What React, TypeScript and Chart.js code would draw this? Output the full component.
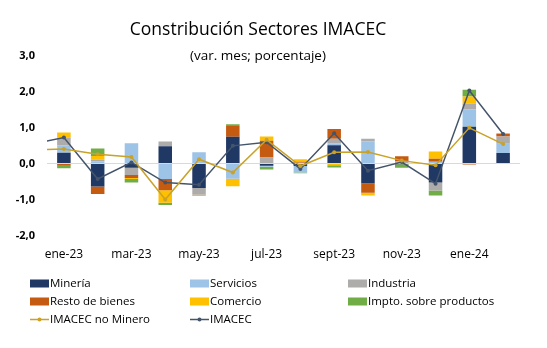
import React, { useEffect, useRef } from 'react';
import { Chart, registerables } from 'chart.js';

Chart.register(...registerables);

// Categories (dic-22 only carries the line stub that enters from the left edge)
const months = ['dic-22', 'ene-23', 'feb-23', 'mar-23', 'abr-23', 'may-23', 'jun-23', 'jul-23', 'ago-23', 'sept-23', 'oct-23', 'nov-23', 'dic-23', 'ene-24', 'feb-24'];

// Sector contributions (pp)
const mineria = [null, 0.30, -0.64, -0.12, 0.48, -0.68, 0.74, -0.06, -0.07, 0.51, -0.55, -0.02, -0.53, 1.02, 0.29];
const servicios = [null, 0.21, 0.06, 0.56, -0.43, 0.31, -0.42, -0.03, -0.18, 0.05, 0.62, 0.00, 0.05, 0.48, 0.26];
const industria = [null, 0.21, 0.05, -0.20, 0.13, -0.19, -0.03, 0.17, 0.02, 0.13, 0.07, 0.06, -0.22, 0.17, 0.20];
const restoBienes = [null, -0.06, -0.21, -0.08, -0.31, 0.00, 0.30, 0.46, 0.03, 0.27, -0.26, 0.14, 0.08, -0.03, 0.07];
const comercio = [null, 0.14, 0.10, -0.03, -0.35, -0.03, -0.18, 0.12, 0.07, -0.05, -0.08, 0.00, 0.20, 0.19, 0.03];
const impto = [null, -0.07, 0.21, -0.10, -0.06, 0.00, 0.05, -0.08, -0.02, -0.06, 0.00, -0.10, -0.14, 0.19, 0.00];

// Lines
const imacecNoMinero = [0.38, 0.40, 0.26, 0.18, -1.00, 0.12, -0.25, 0.66, -0.07, 0.31, 0.32, 0.08, -0.05, 0.99, 0.54];
const imacec = [0.53, 0.72, -0.43, 0.03, -0.53, -0.59, 0.49, 0.59, -0.15, 0.84, -0.20, 0.04, -0.56, 2.03, 0.82];

const yMin = -2;
const yMax = 3;
const yStep = 1;

const titleText = 'Constribución Sectores IMACEC';
const subtitleText = '(var. mes; porcentaje)';

const FONT = '"Open Sans", "Noto Sans", sans-serif';

export default function App() {
  const ref = useRef<HTMLCanvasElement>(null);

  useEffect(() => {
    const canvas = ref.current as HTMLCanvasElement;

    const barDs = (label: string, data: (number | null)[], color: string) => ({
      type: 'bar' as const,
      label,
      data,
      backgroundColor: color,
      borderWidth: 0,
      order: 1,
      stack: 'sectores',
      barPercentage: 0.4,
      categoryPercentage: 1,
    });
    const lineDs = (label: string, data: number[], color: string, stack: string) => ({
      type: 'line' as const,
      label,
      data,
      borderColor: color,
      backgroundColor: color,
      borderWidth: 1.5,
      pointRadius: 2,
      pointHoverRadius: 2,
      pointBackgroundColor: color,
      pointBorderWidth: 0,
      order: 0,
      stack,
      tension: 0,
      fill: false,
    });

    const overlay = {
      id: 'overlay',
      afterDraw(chart: any) {
        const ctx = chart.ctx as CanvasRenderingContext2D;
        ctx.save();
        ctx.fillStyle = '#000';
        ctx.textAlign = 'center';
        ctx.textBaseline = 'middle';
        ctx.font = `17.5px ${FONT}`;
        ctx.fillText(titleText, 258, 30.5);
        ctx.font = `13.5px ${FONT}`;
        ctx.fillText(subtitleText, 258, 56.5);

        // legend: 3 columns
        const colX = [30, 190, 348];
        const rowY = [283.5, 301.5, 319.5];
        ctx.textAlign = 'left';
        ctx.font = `11.5px ${FONT}`;
        chart.data.datasets.forEach((ds: any, i: number) => {
          const x = colX[i % 3];
          const y = rowY[Math.floor(i / 3)];
          if (ds.type === 'line') {
            ctx.strokeStyle = ds.borderColor;
            ctx.lineWidth = 1.5;
            ctx.beginPath();
            ctx.moveTo(x, y);
            ctx.lineTo(x + 19, y);
            ctx.stroke();
            ctx.fillStyle = ds.borderColor;
            ctx.beginPath();
            ctx.arc(x + 9.5, y, 2, 0, Math.PI * 2);
            ctx.fill();
          } else {
            ctx.fillStyle = ds.backgroundColor;
            ctx.fillRect(x, y - 4, 19, 8);
          }
          ctx.fillStyle = '#000';
          ctx.fillText(ds.label, x + 20, y);
        });
        ctx.restore();
      },
    };

    const chart = new Chart(canvas, {
      type: 'bar',
      data: {
        labels: months,
        datasets: [
          barDs('Minería', mineria, '#203864'),
          barDs('Servicios', servicios, '#9DC3E6'),
          barDs('Industria', industria, '#AEABAB'),
          barDs('Resto de bienes', restoBienes, '#C55A11'),
          barDs('Comercio', comercio, '#FFC000'),
          barDs('Impto. sobre productos', impto, '#70AD47'),
          lineDs('IMACEC no Minero', imacecNoMinero, '#C9A227', 'l1'),
          lineDs('IMACEC', imacec, '#44546A', 'l2'),
        ] as any,
      },
      options: {
        animation: false,
        responsive: false,
        events: [],
        layout: { padding: { left: 0, right: 27, top: 55.5, bottom: 72.5 } },
        plugins: {
          legend: { display: false },
          title: { display: false },
          tooltip: { enabled: false },
        },
        scales: {
          x: {
            stacked: true,
            min: months[1],
            offset: true,
            grid: { display: false, drawTicks: false },
            border: { display: false },
            ticks: {
              autoSkip: false,
              maxRotation: 0,
              padding: 12,
              color: '#000',
              font: { family: FONT, size: 12 },
              callback: function (this: any, value: any) {
                const i = Number(value);
                return (i - 1) % 2 === 0 ? this.getLabelForValue(i) : '';
              },
            },
            afterFit: (s: any) => {
              s.height = 40;
            },
          },
          y: {
            stacked: true,
            min: yMin,
            max: yMax,
            ticks: {
              stepSize: yStep,
              padding: 12,
              color: '#000',
              font: { family: FONT, size: 11, weight: 'bold' },
              callback: (v: any) => Number(v).toFixed(1).replace('.', ','),
            },
            grid: {
              drawTicks: false,
              color: (c: any) => (c.tick && c.tick.value === 0 ? '#D9D9D9' : 'rgba(0,0,0,0)'),
              lineWidth: 1,
            },
            border: { display: false },
            afterFit: (s: any) => {
              s.width = 47;
            },
          },
        },
      } as any,
      plugins: [overlay],
    });

    return () => chart.destroy();
  }, []);

  return (
    <canvas
      ref={ref}
      width={547}
      height={348}
      style={{ position: 'absolute', left: 0, top: 0, display: 'block', background: '#fff' }}
    />
  );
}
